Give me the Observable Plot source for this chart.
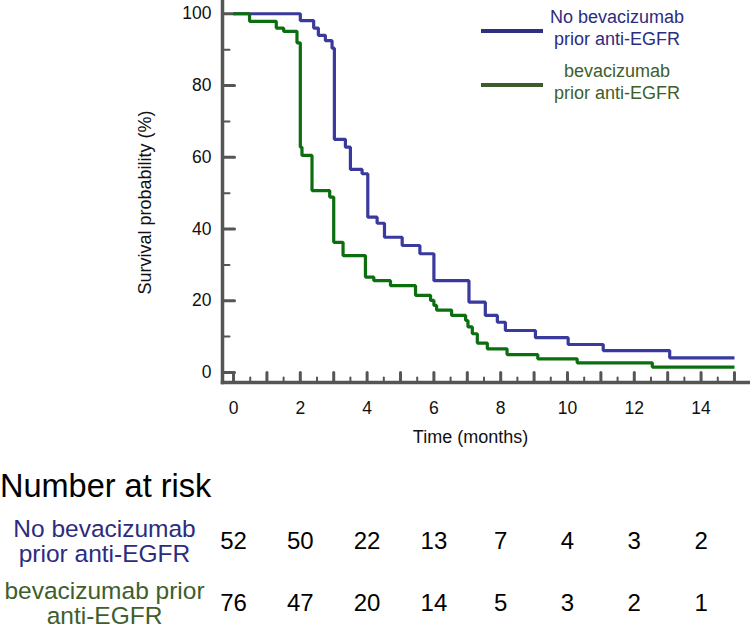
<!DOCTYPE html>
<html>
<head>
<meta charset="utf-8">
<script src="https://cdn.jsdelivr.net/npm/d3@7"></script>
<script src="https://cdn.jsdelivr.net/npm/@observablehq/plot@0.6"></script>
<style>
  body { margin: 0; background: #fff; font-family: "Liberation Sans", Arial, sans-serif; }
  #wrap { position: relative; width: 750px; height: 629px; overflow: hidden; background: #fff; }
  #wrap svg { display: block; }
  .leg-line { position: absolute; height: 3.5px; }
  .leg-text { position: absolute; width: 160px; text-align: center; font-size: 18px; line-height: 22px; }
  #risk-title { position: absolute; left: 0px; top: 470px; font-size: 32.5px; line-height: 32px; color: #000; }
</style>
</head>
<body>
<div id="wrap"></div>
<script>
// ---------- data ----------
const seriesNames = ["No bevacizumab prior anti-EGFR", "bevacizumab prior anti-EGFR"];
const legendLabels = ["No bevacizumab\nprior anti-EGFR", "bevacizumab\nprior anti-EGFR"];
const tableLabels = ["No bevacizumab\nprior anti-EGFR", "bevacizumab prior\nanti-EGFR"];
const curveColors = ["#3a3a9e", "#0b6e0f"];
const labelColors = ["#2c2c80", "#3e5e2c"];

// Kaplan-Meier steps: time (months) and survival (%) after each drop
const noBevTime = [0, 2.0, 2.4, 2.54, 2.75, 2.95, 3.02, 3.35, 3.5, 3.85, 4.02, 4.3, 4.52, 5.05, 5.58, 6.0, 7.05, 7.54, 7.9, 8.14, 9.04, 10.02, 11.07, 13.06, 15.0];
const noBevSurv = [100, 98.1, 96.0, 94.0, 92.5, 90.4, 65.0, 62.8, 56.6, 55.4, 43.3, 41.6, 37.7, 35.4, 33.1, 25.6, 19.6, 15.9, 14.0, 11.7, 9.7, 7.8, 6.1, 4.1, 4.1];
const bevTime = [0, 0.48, 1.28, 1.5, 1.9, 2.0, 2.05, 2.35, 2.88, 3.0, 3.28, 3.95, 4.2, 4.7, 5.45, 5.9, 6.0, 6.08, 6.53, 6.95, 7.02, 7.15, 7.3, 7.6, 8.19, 9.11, 10.29, 12.54, 15.0];
const bevSurv = [100, 97.9, 96.0, 95.1, 91.9, 62.8, 60.5, 50.7, 48.9, 36.3, 32.6, 26.6, 25.6, 24.2, 21.5, 20.1, 18.7, 17.4, 15.9, 14.5, 12.7, 10.8, 8.2, 6.6, 5.0, 3.8, 2.7, 1.5, 1.5];

const xLabelTicks = [0, 2, 4, 6, 8, 10, 12, 14];
const xMajorTicks = [0, 1, 2, 3, 4, 5, 6, 7, 8, 9, 10, 11, 12, 13, 14, 15];
const xMinorTicks = [0.5, 1.5, 2.5, 3.5, 4.5, 5.5, 6.5, 7.5, 8.5, 9.5, 10.5, 11.5, 12.5, 13.5, 14.5];
const yMajorTicks = [0, 20, 40, 60, 80, 100];
const yMinorTicks = [10, 30, 50, 70, 90];

const riskTimes = [0, 2, 4, 6, 8, 10, 12, 14];
const riskNoBev = [52, 50, 22, 13, 7, 4, 3, 2];
const riskBev = [76, 47, 20, 14, 5, 3, 2, 1];

// ---------- build tables ----------
const curves = [
  ...noBevTime.map((t, i) => ({t, s: noBevSurv[i], g: seriesNames[0]})),
  ...bevTime.map((t, i) => ({t, s: bevSurv[i], g: seriesNames[1]}))
];
const risk = [
  ...riskTimes.map((t, i) => ({t, n: riskNoBev[i], g: seriesNames[0]})),
  ...riskTimes.map((t, i) => ({t, n: riskBev[i], g: seriesNames[1]}))
];

const FONT = '"Liberation Sans", Arial, sans-serif';
const AXIS = "#555555";
const X_DOMAIN = [-0.33, 15.42];
const Y_DOMAIN = [-2.79, 103.7];
const colorScale = {domain: seriesNames, range: curveColors};
// plain straight tick shape for vectors (no arrow head)
const tickShape = {draw(context, l) { context.moveTo(0, 0); context.lineTo(0, -l); }};

const main = Plot.plot({
  width: 750, height: 450,
  marginLeft: 222, marginRight: 2, marginTop: 0, marginBottom: 68,
  x: {domain: X_DOMAIN},
  y: {domain: Y_DOMAIN},
  color: colorScale,
  style: {fontFamily: FONT, fontSize: "17px", color: "#111", background: "transparent", overflow: "visible"},
  marks: [
    Plot.axisY(yMajorTicks, {tickSize: 0, tickPadding: 11, fontSize: 17.5, label: null}),
    Plot.axisX(xLabelTicks, {tickSize: 0, tickPadding: 19, fontSize: 17.5, label: null}),
    Plot.vector(yMajorTicks, {y: d => d, frameAnchor: "left", rotate: 90, length: 12, anchor: "start", shape: tickShape, stroke: AXIS, strokeWidth: 3}),
    Plot.vector(yMinorTicks, {y: d => d, frameAnchor: "left", rotate: 90, length: 7, anchor: "start", shape: tickShape, stroke: AXIS, strokeWidth: 2}),
    Plot.vector(xMajorTicks, {x: d => d, frameAnchor: "bottom", rotate: 0, length: 10, anchor: "start", shape: tickShape, stroke: AXIS, strokeWidth: 3}),
    Plot.vector(xMinorTicks, {x: d => d, frameAnchor: "bottom", rotate: 0, length: 5, anchor: "start", shape: tickShape, stroke: AXIS, strokeWidth: 2}),
    Plot.line(curves, {x: "t", y: "s", z: "g", stroke: "g", curve: "step-after", strokeWidth: 3.2, strokeLinejoin: "miter", strokeLinecap: "butt"}),
    Plot.frame({anchor: "left", stroke: AXIS, strokeWidth: 3.5}),
    Plot.frame({anchor: "bottom", stroke: AXIS, strokeWidth: 3.5}),
    Plot.text(["Time (months)"], {frameAnchor: "bottom", lineAnchor: "middle", textAnchor: "middle", dy: 55, dx: -15, fontSize: 18, fill: "#111"}),
    Plot.text(["Survival probability (%)"], {frameAnchor: "left", lineAnchor: "middle", textAnchor: "middle", rotate: -90, dx: -77, dy: 11, fontSize: 18, fill: "#111"})
  ]
});

const table = Plot.plot({
  width: 750, height: 179,
  marginLeft: 222, marginRight: 2, marginTop: 91, marginBottom: 26,
  x: {domain: X_DOMAIN, axis: null},
  y: {type: "point", domain: seriesNames, axis: null, padding: 0},
  style: {fontFamily: FONT, background: "transparent", overflow: "visible"},
  marks: [
    Plot.text(risk, {x: "t", y: "g", text: d => String(d.n), fontSize: 24, fill: "#000"}),
    Plot.text(seriesNames, {y: d => d, text: (d, i) => tableLabels[i], frameAnchor: "left", textAnchor: "middle",
      dx: -118, lineHeight: 1.04, fontSize: 24.5, fill: (d, i) => labelColors[i]})
  ]
});

const wrap = document.getElementById("wrap");
wrap.appendChild(main);
wrap.appendChild(table);

// legend (HTML overlay)
const legendTop = [31, 85];
seriesNames.forEach((name, i) => {
  const line = document.createElement("div");
  line.className = "leg-line";
  line.style.left = "481px";
  line.style.width = "62px";
  line.style.top = (legendTop[i] - 1.75) + "px";
  line.style.background = i === 0 ? "#2e3082" : "#3d5c2e";
  wrap.appendChild(line);
  const txt = document.createElement("div");
  txt.className = "leg-text";
  txt.style.left = (617 - 80) + "px";
  txt.style.top = (legendTop[i] - 25) + "px";
  txt.style.color = labelColors[i];
  txt.innerHTML = legendLabels[i].split("\n").join("<br>");
  wrap.appendChild(txt);
});

const title = document.createElement("div");
title.id = "risk-title";
title.textContent = "Number at risk";
wrap.appendChild(title);
</script>
</body>
</html>
